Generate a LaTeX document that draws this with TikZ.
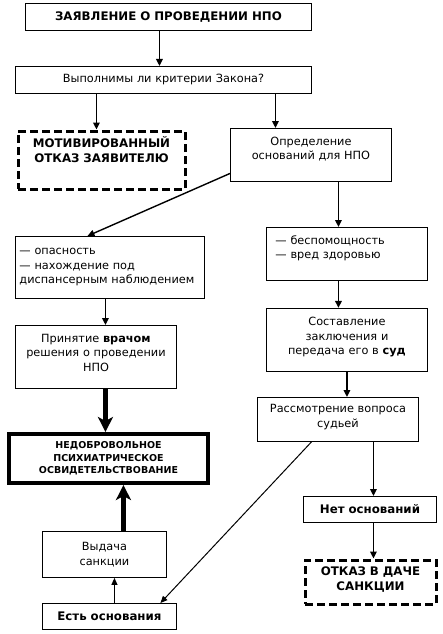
\documentclass[tikz,border=0pt]{standalone}
\usepackage{fontspec}
\setmainfont{DejaVu Sans}
\usepackage{tikz}
\usetikzlibrary{arrows.meta,positioning}

% extra depth under the last line, to push the text up in its box
\newcommand{\lift}[1]{\rule[-#1]{0pt}{0pt}}

\begin{document}
\begin{tikzpicture}[
  x=1pt, y=-1pt,
  every node/.style={font=\fontsize{11.3}{14.5}\selectfont},
  block/.style={rectangle, draw, line width=0.9pt, align=center,
                inner xsep=4pt, inner ysep=2pt, anchor=north west},
  dashblock/.style={block, line width=3pt, dash pattern=on 8pt off 4pt,
                font=\fontsize{11.8}{15}\selectfont\bfseries},
  thickblock/.style={block, line width=4pt,
                font=\fontsize{9.5}{12.5}\selectfont\bfseries},
  boldtext/.style={font=\fontsize{11.8}{15}\selectfont\bfseries},
  arr/.style={-{Triangle[length=7pt,width=6.5pt]}, line width=1.8pt},
  thinarr/.style={-{Triangle[length=7pt,width=6pt]}, line width=1pt},
  bigarr/.style={-{Stealth[length=15pt,width=15pt,inset=4pt]}, line width=5pt},
]
\useasboundingbox (0,0) rectangle (442,634);

\node[block, boldtext, text width=278pt, minimum height=27pt]
                            (zayav)  at (25,3)    {ЗАЯВЛЕНИЕ О ПРОВЕДЕНИИ НПО};
\node[block, text width=288pt, minimum height=27pt]
                            (krit)   at (15,66)   {Выполнимы ли критерии Закона?};
\node[dashblock, text width=159pt, minimum height=58pt]
                            (motiv)  at (16.5,129.5) {МОТИВИРОВАННЫЙ\\
                                                      ОТКАЗ ЗАЯВИТЕЛЮ\lift{20pt}};
\node[block, text width=153pt, minimum height=53pt]
                            (opred)  at (230,128) {Определение\\
                                                   оснований для НПО\lift{13pt}};
\node[block, align=left, text width=181pt, minimum height=62pt]
                            (danger) at (15,236)  {— опасность\\
                                                   — нахождение под\\
                                                   диспансерным наблюдением};
\node[block, align=left, inner xsep=9pt, text width=143pt, minimum height=53pt]
                            (help)   at (266,227) {— беспомощность\\
                                                   — вред здоровью\lift{14pt}};
\node[block, text width=153pt, minimum height=63pt, below=27pt of help.south west,
      anchor=north west]
                            (zakl)                {Составление\\
                                                   заключения и\\
                                                   передача его в \textbf{суд}\lift{8pt}};
\node[block, text width=153pt, minimum height=63pt]
                            (vrach)  at (15,325)  {Принятие \textbf{врачом}\\
                                                   решения о проведении\\
                                                   НПО\lift{9pt}};
\node[block, text width=153pt, minimum height=44pt]
                            (sud)    at (257,397) {Рассмотрение вопроса\\
                                                   судьей\lift{7pt}};
\node[thickblock, text width=191pt, minimum height=49pt]
                            (nedobr) at (7,432)   {НЕДОБРОВОЛЬНОЕ\\
                                                   ПСИХИАТРИЧЕСКОЕ\\
                                                   ОСВИДЕТЕЛЬСТВОВАНИЕ};
\node[block, boldtext, text width=125pt, minimum height=26pt]
                            (net)    at (303,496) {Нет оснований};
\node[dashblock, text width=123pt, minimum height=44pt]
                            (otkaz)  at (303.5,558.5) {ОТКАЗ В ДАЧЕ\\
                                                       САНКЦИИ\lift{6pt}};
\node[block, text width=116pt, minimum height=46pt]
                            (vydacha) at (42,531) {Выдача\\
                                                   санкции};
\node[block, boldtext, text width=126pt, minimum height=26pt]
                            (est)    at (42,603)  {Есть основания};

\draw[arr] ([xshift=-9pt]zayav.south) -- ([xshift=-9pt]zayav.south |- krit.north);
\draw[arr] ([xshift=-67pt]krit.south) -- ([xshift=-67pt]krit.south |- motiv.north);
\draw[arr] ([xshift=112pt]krit.south) -- ([xshift=112pt]krit.south |- opred.north);
\draw[arr, line width=1.4pt] ([yshift=-18.5pt]opred.west) -- ([xshift=-22.5pt]danger.north);
\draw[arr] ([xshift=27.5pt]opred.south) -- ([xshift=27.5pt]opred.south |- help.north);
\draw[arr] ([xshift=-8.5pt]help.south) -- ([xshift=-8.5pt]zakl.north);
\draw[arr] ([xshift=-4.5pt]danger.south) -- ([xshift=-4.5pt]danger.south |- vrach.north);
\draw[bigarr] ([xshift=9.5pt]vrach.south) -- ([xshift=9.5pt]vrach.south |- nedobr.north);
\draw[arr] (zakl.south) -- (zakl.south |- sud.north);
\draw[arr] ([xshift=35.5pt]sud.south) -- ([xshift=35.5pt]sud.south |- net.north);
\draw[arr] ([xshift=3.5pt]net.south) -- ([xshift=3.5pt]net.south |- otkaz.north);
\draw[thinarr] ([xshift=-26.5pt]sud.south) -- ([xshift=51pt]est.north);
\draw[thinarr] ([xshift=5pt]est.north) -- ([xshift=5pt]est.north |- vydacha.south);
\draw[bigarr] ([xshift=19pt]vydacha.north) -- ([xshift=19pt]vydacha.north |- nedobr.south);
\end{tikzpicture}
\end{document}
